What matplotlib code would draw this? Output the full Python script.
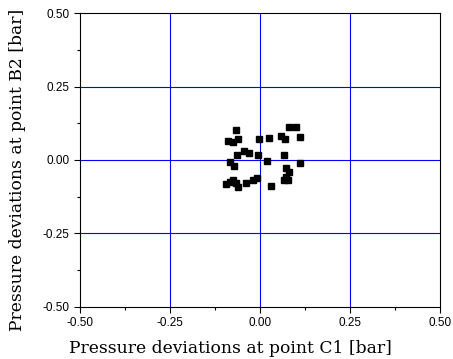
import numpy as np
import matplotlib; matplotlib.use('Agg')
import matplotlib.pyplot as plt
from matplotlib.ticker import MultipleLocator

# pressure deviation pairs
dp_c1 = [-0.068, -0.088, -0.076, -0.060, -0.004, 0.025, 0.058, 0.069, 0.081, 0.100,
         0.111, -0.044, -0.031, -0.065, -0.006, 0.067, 0.020, -0.083, -0.071, 0.111,
         0.072, 0.081, 0.072, 0.067, 0.077, -0.009, -0.020, -0.040, -0.074, -0.083,
         -0.094, -0.062, 0.031, -0.068]
dp_b2 = [0.101, 0.066, 0.060, 0.070, 0.070, 0.076, 0.083, 0.072, 0.111, 0.111,
         0.078, 0.032, 0.025, 0.018, 0.018, 0.017, -0.005, -0.008, -0.022, -0.009,
         -0.028, -0.041, -0.059, -0.070, -0.070, -0.060, -0.070, -0.080, -0.068, -0.074,
         -0.083, -0.093, -0.090, -0.080]
ticks = [-0.50, -0.25, 0.00, 0.25, 0.50]

fig = plt.figure(figsize=(4.53, 3.59), dpi=100)
ax = fig.add_axes([0.177, 0.146, 0.794, 0.817])
for t in ticks[1:-1]:
    ax.axvline(t, color='#0000ff', lw=0.8, zorder=1)
    ax.axhline(t, color='#0000ff', lw=0.8, zorder=1)
ax.plot(dp_c1, dp_b2, 's', color='black', ms=4.6, zorder=3)
ax.set_xlim(-0.5, 0.5); ax.set_ylim(-0.5, 0.5)
ax.set_xticks(ticks); ax.set_yticks(ticks)
ax.set_xticklabels([f'{t:.2f}' for t in ticks], family='Liberation Sans', fontsize=8.5)
ax.set_yticklabels([f'{t:.2f}' for t in ticks], family='Liberation Sans', fontsize=8.5)
ax.xaxis.set_minor_locator(MultipleLocator(0.125))
ax.yaxis.set_minor_locator(MultipleLocator(0.125))
ax.tick_params(which='major', direction='out', length=4, width=0.8)
ax.tick_params(which='minor', direction='out', length=2.5, width=0.8)
ax.set_xlabel('Pressure deviations at point C1 [bar]', family='DejaVu Serif', fontsize=12.3)
ax.set_ylabel('Pressure deviations at point B2 [bar]', family='DejaVu Serif', fontsize=12.3)
ax.xaxis.set_label_coords(0.419, -0.115)
ax.yaxis.set_label_coords(-0.15, 0.466)
plt.savefig('out.png', dpi=100)
